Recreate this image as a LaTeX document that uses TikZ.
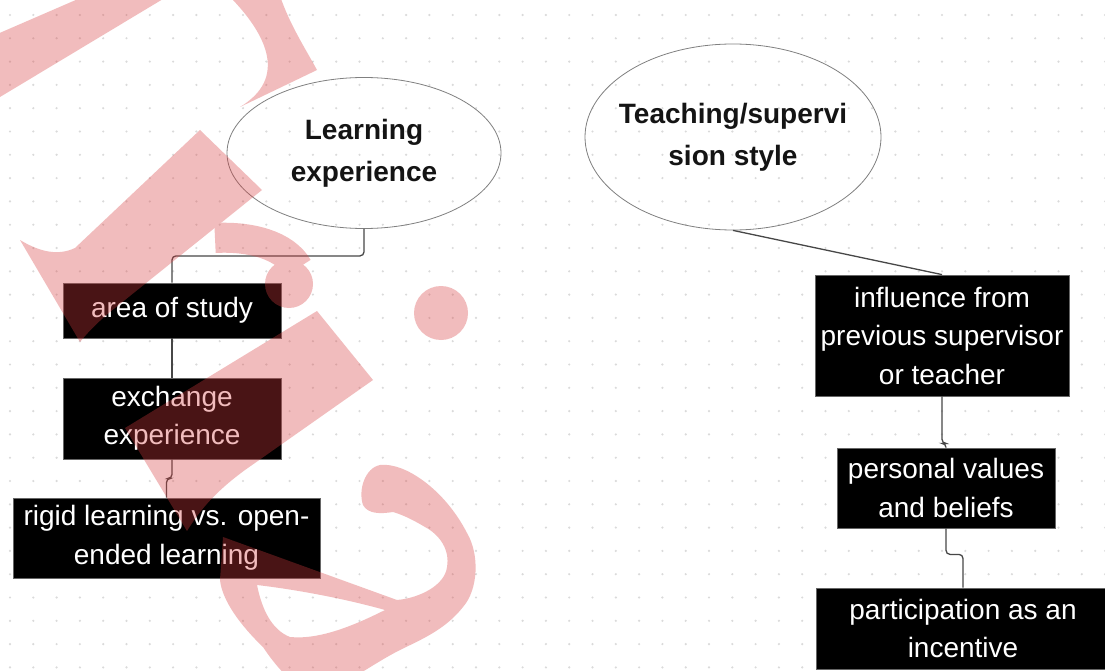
\documentclass[tikz,border=0pt]{standalone}
\usepackage{fontspec}
\setmainfont{Liberation Sans}
\usetikzlibrary{shapes.geometric}
\definecolor{wmred}{RGB}{216,60,62}
\definecolor{griddot}{RGB}{218,218,218}
\begin{document}
\begin{tikzpicture}[x=1pt,y=-1pt,
  topic/.style={ellipse, draw=black!50, line width=0.8pt, inner xsep=-30pt, inner ysep=0pt,
    align=center, text=black!92, font=\bfseries\fontsize{28}{42}\selectfont},
  card/.style={rectangle, fill=black, draw=black!60, line width=0.8pt, inner sep=0pt,
    align=center, text=white, font=\fontsize{28}{38.5}\selectfont},
  link/.style={draw=black!72, line width=1.3pt, rounded corners=4pt}]

% canvas and dotted grid
\fill[white] (0,0) rectangle (1105,671);
\useasboundingbox (0,0) rectangle (1105,671);
\foreach \i in {0,...,47} {
  \foreach \j in {0,...,28} {
    \fill[griddot] (10+23.3*\i, 15+23.3*\j) circle (1.2pt);
  }
}

% main topics
\node[topic, minimum width=274pt, minimum height=151pt] (learn) at (364,153) {Learning\\experience};
\node[topic, minimum width=296pt, minimum height=186pt] (teach) at (733,137) {Teaching/supervi\\sion style};

% left branch
\node[card, minimum width=218pt, minimum height=55pt] (area) at (172,310.5) {area of study};
\node[card, minimum width=218pt, minimum height=81pt] (exch) at (172,418.5) {exchange\\experience};
\node[card, minimum width=307pt, minimum height=80pt] (rigid) at (166.5,538) {rigid learning vs. open-\\ended learning};

% right branch
\node[card, minimum width=254pt, minimum height=121pt] (infl) at (942,335.5) {influence from\\previous supervisor\\or teacher};
\node[card, minimum width=218pt, minimum height=80pt] (pers) at (946,488) {personal values\\and beliefs};
\node[card, minimum width=294pt, minimum height=81pt] (part) at (963,628.5) {participation as an\\incentive};

% connectors
\draw[link] (learn.south) -- ++(0,27) -| (area.north);
\draw[link] (area.south) -- (exch.north);
\draw[link] (exch.south) -- ++(0,19) -| (rigid.north);
\draw[link] (teach.south) -- (infl.north);
\draw[link] (infl.south) -- ++(0,47) -| (pers.north);
\draw[link] (pers.south) -- ++(0,26) -| (part.north);

% translucent lettering laid over the chart
\begin{scope}[transparency group, opacity=0.34]
  % first stroke and bowl at the top
  \fill[wmred] (-5,35) -- (85,-4) -- (168,-4) -- (-5,100) -- cycle;
  \fill[wmred] (228,-4) -- (233,0) .. controls (266,35) and (288,78) .. (240,107)
     -- (317,70) .. controls (305,48) and (290,25) .. (280,-4) -- cycle;
  % r
  \fill[wmred] (20,240) .. controls (40,252) and (58,256) .. (75,248) -- (200,130) -- (262,190)
     -- (110,312) .. controls (98,322) and (88,332) .. (80,342) -- cycle;
  \draw[wmred, line width=30pt] (215,238) .. controls (250,236) and (285,245) .. (298,268);
  \fill[wmred] (289,284) circle (24pt);
  % i
  \fill[wmred] (317,311) -- (373,380) -- (245,470) .. controls (215,492) and (200,510) .. (187,531)
     -- (125,428) -- cycle;
  \fill[wmred] (441,313) circle (27pt);
  % e
  \fill[wmred, even odd rule]
     (380,465) .. controls (405,462) and (445,490) .. (467,533)
     .. controls (480,555) and (478,590) .. (463,607)
     .. controls (445,630) and (420,640) .. (400,650)
     .. controls (370,665) and (340,690) .. (315,692)
     .. controls (295,690) and (275,665) .. (263,647)
     .. controls (240,625) and (222,600) .. (220,580)
     -- (223,537) -- (397,600)
     .. controls (420,598) and (445,585) .. (447,567)
     .. controls (450,550) and (440,535) .. (425,527)
     .. controls (410,518) and (400,514) .. (393,512)
     .. controls (380,514) and (368,514) .. (363,505)
     .. controls (358,490) and (365,468) .. (380,465) -- cycle
     (257,585) .. controls (300,590) and (350,600) .. (385,610)
     .. controls (355,625) and (320,640) .. (290,637)
     .. controls (272,630) and (262,610) .. (257,585) -- cycle;
\end{scope}
\end{tikzpicture}
\end{document}
